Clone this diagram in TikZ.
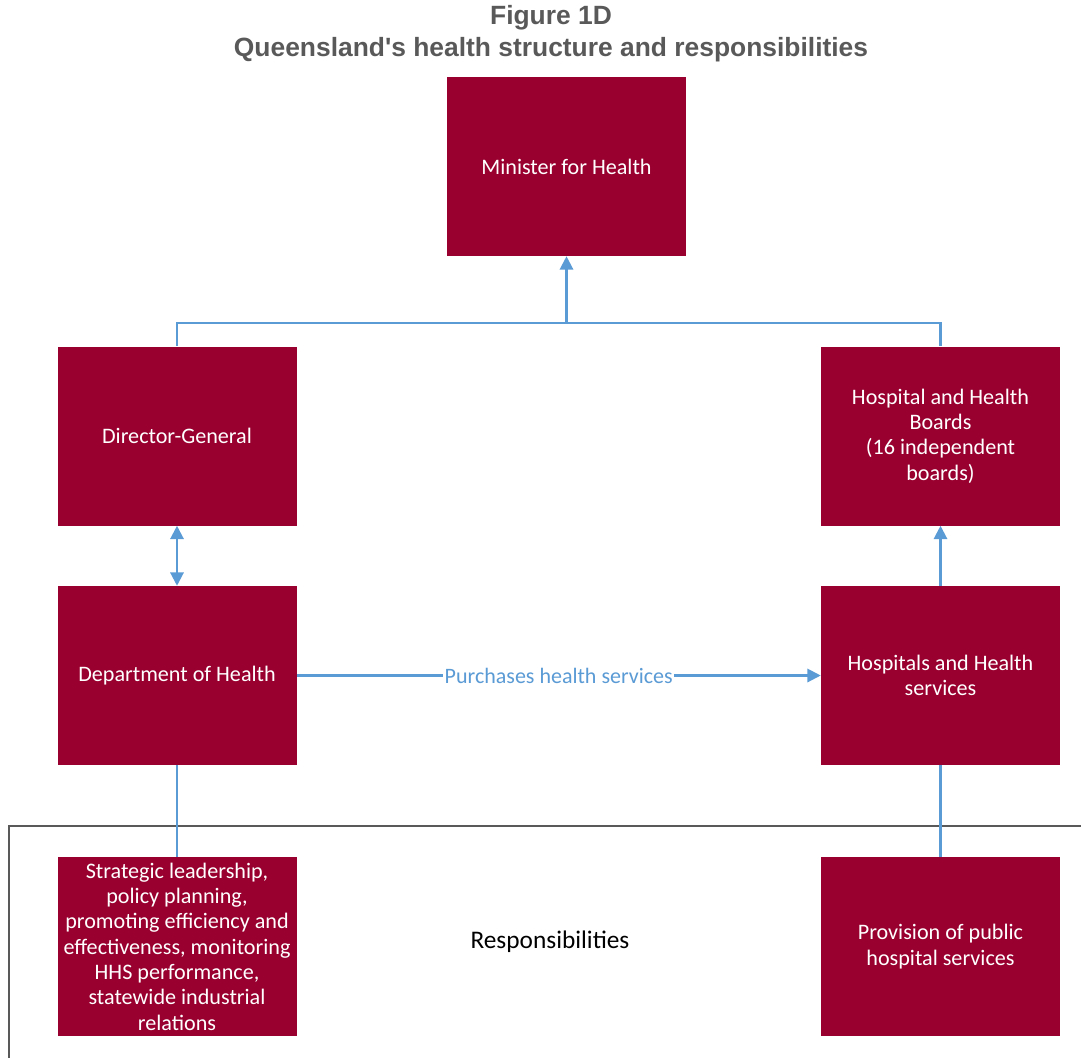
\documentclass[tikz,border=0pt]{standalone}
\usepackage{fontspec}
\setmainfont{Carlito}
\newfontfamily\titlefont{Liberation Sans}
\usetikzlibrary{arrows.meta}
\definecolor{boxred}{HTML}{990030}
\definecolor{lineblue}{HTML}{5B9BD5}
\definecolor{titlegray}{HTML}{595959}
\tikzset{
  orgbox/.style={fill=boxred, draw=none, text=white, minimum width=179.25pt, minimum height=134.25pt,
    inner sep=2pt, align=center, font=\fontsize{16.6pt}{19pt}\selectfont},
  conn/.style={draw=lineblue, line width=1.6pt},
  tip/.style={-{Triangle[width=10pt,length=10pt]}},
  tips/.style={{Triangle[width=10pt,length=10pt]}-{Triangle[width=10pt,length=10pt]}},
}
\begin{document}
\begin{tikzpicture}[x=0.75pt,y=-0.75pt]
\useasboundingbox (0,0) rectangle (1081,1057);
\begin{scope}
\clip (0,0) rectangle (1081,1057);
\draw[draw=titlegray, line width=1.2pt] (9,826) rectangle (1100,1080);
\end{scope}
\node[font=\titlefont\bfseries\fontsize{19.8pt}{24pt}\selectfont, text=titlegray, align=center] (title) at (551,34) {Figure 1D\\Queensland's health structure and responsibilities};
\node[font=\fontsize{19pt}{22pt}\selectfont] (resp) at (550,942) {Responsibilities};

\node[orgbox] (min) at (566.5,166.5) {Minister for Health};
\node[orgbox] (dg) at (177,436) {Director-General};
\node[orgbox] (hhb) at (940.5,436) {Hospital and Health\\Boards\\(16 independent\\boards)};
\node[orgbox] (doh) at (177,675.5) {Department of Health};
\node[orgbox] (hhs) at (940.5,675.5) {Hospitals and Health\\services};
\node[orgbox] (strat) at (177,946.5) {Strategic leadership,\\policy planning,\\promoting efficiency and\\effectiveness, monitoring\\HHS performance,\\statewide industrial\\relations};
\node[orgbox] (prov) at (940.5,946.5) {Provision of public\\hospital services};

\coordinate (jn) at (566.5,323);
\draw[conn] (dg.north) |- (jn) -| (hhb.north);
\draw[conn, tip] (jn) -- (min.south);
\draw[conn, tips] (dg.south) -- (doh.north);
\draw[conn, tip] (hhs.north) -- (hhb.south);
\draw[conn, tip] (doh.east) -- node[fill=white, inner sep=1pt, text=lineblue, font=\fontsize{16.5pt}{18pt}\selectfont] {Purchases health services} (hhs.west);
\draw[conn] (doh.south) -- (strat.north);
\draw[conn] (hhs.south) -- (prov.north);
\end{tikzpicture}
\end{document}
